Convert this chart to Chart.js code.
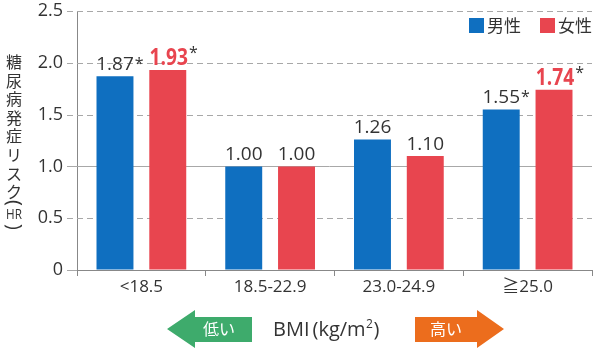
<!DOCTYPE html>
<html>
<head>
<meta charset="utf-8">
<script src="https://cdn.jsdelivr.net/npm/chart.js@4.4.0/dist/chart.umd.min.js"></script>
<style>
  html, body { margin: 0; padding: 0; background: #fff; }
  canvas { display: block; }
</style>
</head>
<body>
<canvas id="hr-chart" width="598" height="358"></canvas>
<script>
// Data
const categories = ['<18.5', '18.5-22.9', '23.0-24.9', '≧25.0'];
const seriesNames = ['男性', '女性'];
const maleHR = [1.87, 1.00, 1.26, 1.55];
const femaleHR = [1.93, 1.00, 1.10, 1.74];
const maleSig = [true, false, false, true];
const femaleSig = [true, false, false, true];
const yTicks = [0, 0.5, 1.0, 1.5, 2.0, 2.5];

// Styles
const FONT = '"Open Sans", "Noto Sans CJK JP", sans-serif';
const JFONT = '"Noto Sans CJK JP", sans-serif';
const BLUE = '#0f6fc0';
const RED = '#e8454f';
const GREEN = '#3eab6c';
const ORANGE = '#ec6d1d';
const TEXT = '#333333';
const GRID = '#a8a8a8';

// horizontal grid lines: dashed, solid at HR = 1.0 and a tick at 0
const gridPlugin = {
    id: 'hGrid',
    beforeDatasetsDraw(chart) {
        const ctx = chart.ctx;
        const area = chart.chartArea;
        const ys = chart.scales.y;
        ctx.save();
        ctx.strokeStyle = GRID;
        ctx.lineWidth = 1;
        yTicks.forEach(v => {
            const y = Math.round(ys.getPixelForValue(v)) + 0.5;
            ctx.setLineDash(v === 1.0 || v === 0 ? [] : [6, 4]);
            ctx.beginPath();
            ctx.moveTo(area.left - 10, y);
            ctx.lineTo(v === 0 ? area.left : area.right, y);
            ctx.stroke();
        });
        ctx.restore();
    }
};

// value labels above bars
const barLabelPlugin = {
    id: 'barLabels',
    afterDatasetsDraw(chart) {
        const ctx = chart.ctx;
        ctx.save();
        chart.data.datasets.forEach((ds, di) => {
            const meta = chart.getDatasetMeta(di);
            const sigs = di === 0 ? maleSig : femaleSig;
            meta.data.forEach((bar, i) => {
                const txt = ds.data[i].toFixed(2);
                const emph = di === 1 && sigs[i];
                const base = bar.y - 6;
                ctx.textBaseline = 'alphabetic';
                let half;
                if (emph) {
                    ctx.font = 'bold 24px ' + FONT;
                    ctx.fillStyle = RED;
                    ctx.textAlign = 'center';
                    ctx.save();
                    ctx.translate(bar.x + 1, base + 1);
                    ctx.scale(0.8, 1);
                    ctx.fillText(txt, 0, 0);
                    half = ctx.measureText(txt).width * 0.8 / 2 + 1;
                    ctx.restore();
                } else {
                    ctx.font = '19px ' + FONT;
                    ctx.fillStyle = TEXT;
                    ctx.textAlign = 'center';
                    ctx.fillText(txt, bar.x, base);
                    half = ctx.measureText(txt).width / 2;
                }
                if (sigs[i]) {
                    ctx.font = '16px ' + FONT;
                    ctx.fillStyle = TEXT;
                    ctx.textAlign = 'left';
                    ctx.fillText('*', bar.x + half + 1, base - (emph ? 6 : 1));
                }
            });
        });
        ctx.restore();
    }
};

// legend in the top right corner
const legendPlugin = {
    id: 'cornerLegend',
    afterDraw(chart) {
        const ctx = chart.ctx;
        const xs = [469, 540];
        ctx.save();
        ctx.font = '17px ' + JFONT;
        ctx.textBaseline = 'middle';
        ctx.textAlign = 'left';
        chart.data.datasets.forEach((ds, i) => {
            ctx.fillStyle = ds.backgroundColor;
            ctx.fillRect(xs[i], 18, 15, 15);
            ctx.fillStyle = TEXT;
            ctx.fillText(ds.label, xs[i] + 18, 26);
        });
        ctx.restore();
    }
};

// vertical y axis title
const yTitlePlugin = {
    id: 'yTitle',
    afterDraw(chart) {
        const ctx = chart.ctx;
        const chars = ['糖', '尿', '病', '発', '症', 'リ', 'ス', 'ク'];
        const cx = 14;
        ctx.save();
        ctx.fillStyle = TEXT;
        ctx.textAlign = 'center';
        ctx.textBaseline = 'middle';
        ctx.font = '16px ' + JFONT;
        chars.forEach((c, i) => ctx.fillText(c, cx, 62 + i * 18.6));
        // parentheses turned for vertical writing
        ctx.font = '20px ' + FONT;
        ctx.save();
        ctx.translate(cx, 203);
        ctx.rotate(Math.PI / 2);
        ctx.fillText('(', 0, 0);
        ctx.restore();
        ctx.save();
        ctx.translate(cx, 227);
        ctx.rotate(Math.PI / 2);
        ctx.fillText(')', 0, 0);
        ctx.restore();
        ctx.font = '15px ' + FONT;
        ctx.save();
        ctx.translate(cx, 215);
        ctx.scale(0.78, 1);
        ctx.fillText('HR', 0, 0);
        ctx.restore();
        ctx.restore();
    }
};

// BMI caption with low / high arrows
const bmiPlugin = {
    id: 'bmiCaption',
    afterDraw(chart) {
        const ctx = chart.ctx;
        const cy = 329;
        ctx.save();
        // low arrow
        ctx.fillStyle = GREEN;
        ctx.beginPath();
        ctx.moveTo(167, cy);
        ctx.lineTo(195, cy - 19);
        ctx.lineTo(195, cy - 12);
        ctx.lineTo(252, cy - 12);
        ctx.lineTo(252, cy + 13);
        ctx.lineTo(195, cy + 13);
        ctx.lineTo(195, cy + 19);
        ctx.closePath();
        ctx.fill();
        // high arrow
        ctx.fillStyle = ORANGE;
        ctx.beginPath();
        ctx.moveTo(415, cy - 12);
        ctx.lineTo(477, cy - 12);
        ctx.lineTo(477, cy - 19);
        ctx.lineTo(504, cy);
        ctx.lineTo(477, cy + 19);
        ctx.lineTo(477, cy + 13);
        ctx.lineTo(415, cy + 13);
        ctx.closePath();
        ctx.fill();

        ctx.fillStyle = '#ffffff';
        ctx.font = '16px ' + JFONT;
        ctx.textAlign = 'center';
        ctx.textBaseline = 'middle';
        ctx.fillText('低い', 219, cy);
        ctx.fillText('高い', 446, cy);

        // BMI (kg/m2)
        ctx.fillStyle = TEXT;
        ctx.textAlign = 'left';
        ctx.textBaseline = 'alphabetic';
        ctx.font = '20px ' + FONT;
        let x = 273;
        const base = cy + 7;
        ctx.fillText('BMI', x, base);
        x += ctx.measureText('BMI').width + 3;
        ctx.fillText('(kg/m', x, base);
        x += ctx.measureText('(kg/m').width;
        ctx.font = '12px ' + FONT;
        ctx.fillText('2', x + 0.5, base - 8);
        x += ctx.measureText('2').width + 1;
        ctx.font = '20px ' + FONT;
        ctx.fillText(')', x, base);
        ctx.restore();
    }
};

const ctx = document.getElementById('hr-chart').getContext('2d');

const chart = new Chart(ctx, {
    type: 'bar',
    data: {
        labels: categories,
        datasets: [{
            label: seriesNames[0],
            data: maleHR,
            backgroundColor: BLUE,
            categoryPercentage: 0.82,
            barPercentage: 0.70
        }, {
            label: seriesNames[1],
            data: femaleHR,
            backgroundColor: RED,
            categoryPercentage: 0.82,
            barPercentage: 0.70
        }]
    },
    options: {
        responsive: false,
        animation: false,
        layout: {
            padding: { top: 11, right: 6, left: 0, bottom: 0 }
        },
        plugins: {
            legend: { display: false },
            tooltip: { enabled: false }
        },
        scales: {
            x: {
                offset: true,
                grid: {
                    offset: true,
                    drawOnChartArea: false,
                    tickLength: 6,
                    color: '#888'
                },
                border: { color: '#888', width: 1 },
                ticks: {
                    color: TEXT,
                    font: { family: FONT, size: 17 },
                    padding: 1
                },
                afterFit(scale) {
                    scale.height = 88;
                    scale.paddingLeft = 0;
                    scale.paddingRight = 0;
                }
            },
            y: {
                min: 0,
                max: 2.5,
                afterBuildTicks(scale) {
                    scale.ticks = yTicks.map(v => ({ value: v }));
                },
                grid: {
                    drawOnChartArea: false,
                    drawTicks: false
                },
                border: { color: '#888', width: 1 },
                ticks: {
                    color: TEXT,
                    font: { family: FONT, size: 18 },
                    padding: 14,
                    callback: v => v === 0 ? '0' : v.toFixed(1)
                },
                afterFit(scale) {
                    scale.width = 77;
                    scale.paddingTop = 0;
                    scale.paddingBottom = 0;
                }
            }
        }
    },
    plugins: [gridPlugin, barLabelPlugin, legendPlugin, yTitlePlugin, bmiPlugin]
});
</script>
</body>
</html>
